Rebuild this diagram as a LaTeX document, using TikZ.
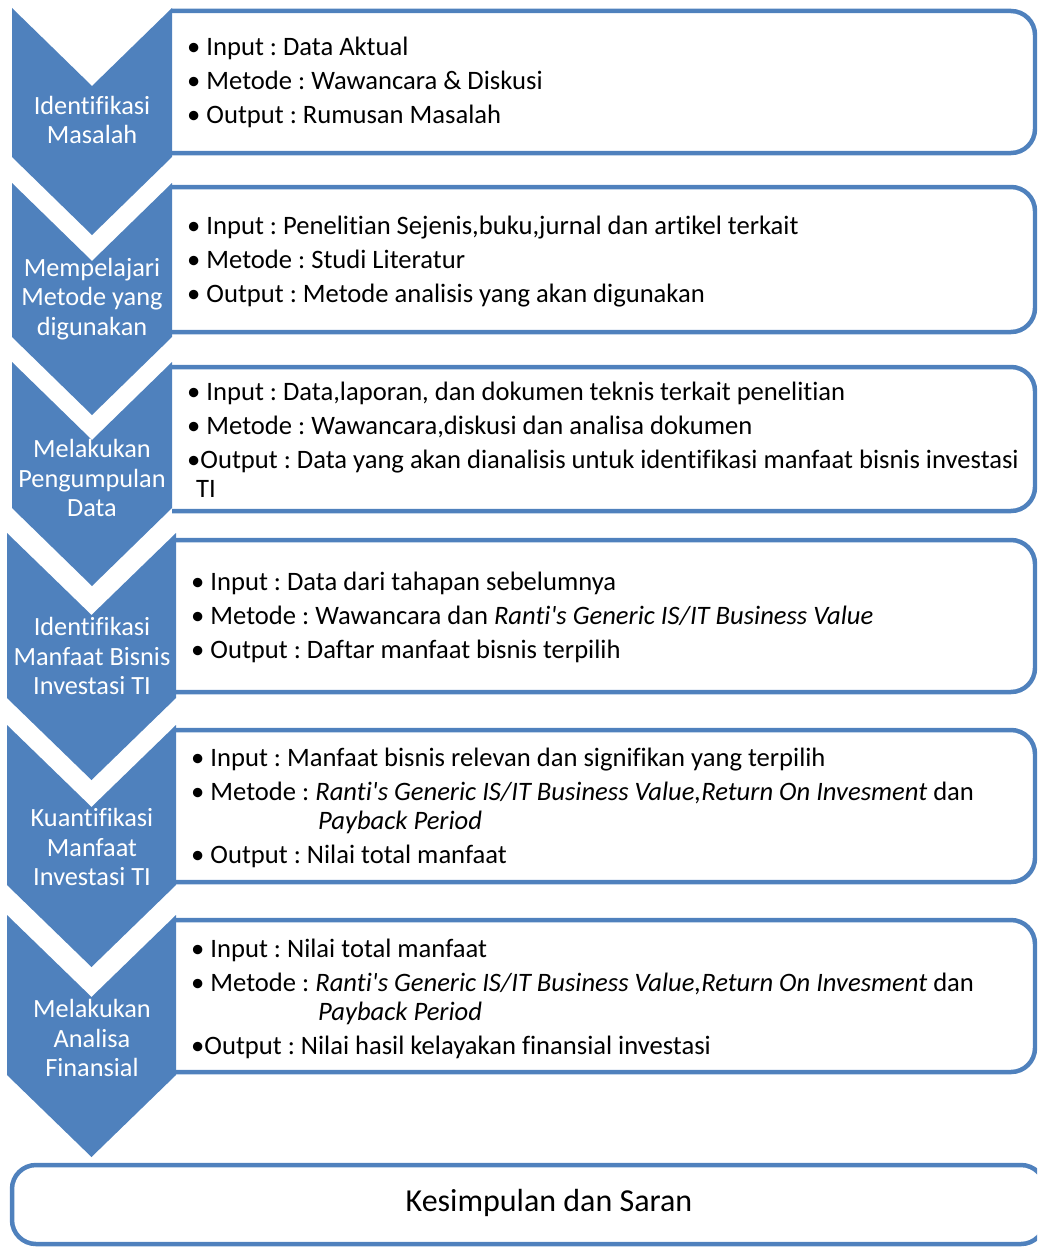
\documentclass[tikz,border=0pt]{standalone}
\usepackage{fontspec}
\setmainfont[Ligatures={NoCommon,NoContextual}]{Carlito}
\usetikzlibrary{positioning}
\definecolor{chevblue}{RGB}{79,129,189}
\frenchspacing

% chevron: x-left, x-right, top, bottom corners, notch depth
\newcommand{\stepchev}[5]{%
  \fill[chevblue] (#1,#3) -- ({(#1+#2)/2},#3+#5) -- (#2,#3) -- (#2,#4)
    -- ({(#1+#2)/2},#4+#5) -- (#1,#4) -- cycle;}
% info box open on the left, rounded on the right
\newcommand{\infobox}[4]{%
  \draw[boxline] (#1,#2) -- (#4,#2) -- (#4,#3) -- (#1,#3);}

\tikzset{
  boxline/.style={draw=chevblue,line width=4.5pt,rounded corners=24pt},
  steplab/.style={text=white,align=center,inner sep=0pt,
    font=\fontsize{26.3}{29.5}\selectfont},
  infotext/.style={anchor=west,align=left,inner sep=0pt,
    font=\fontsize{26.6}{29.5}\selectfont},
}

\begin{document}
\begin{tikzpicture}[x=1pt,y=-1pt]
  \useasboundingbox (0,0) rectangle (1037,1247);
  \clip (0,0) rectangle (1037,1247);

  % boxes
  \infobox{172}{11}{153}{1035}
  \infobox{172}{187}{332}{1035}
  \infobox{172}{367}{511}{1035}
  \infobox{176}{540}{692}{1035}
  \infobox{176}{730}{882}{1035}
  \infobox{176}{920}{1072}{1035}
  \draw[boxline] (12,1165) rectangle (1045,1244);

  % chevrons
  \stepchev{12}{172}{8}{157}{78}
  \stepchev{12}{172}{183}{337}{78}
  \stepchev{12}{172}{362}{508}{78}
  \stepchev{7}{176}{533}{698}{82}
  \stepchev{7}{176}{725}{885}{82}
  \stepchev{7}{176}{915}{1075}{82}

  \node[steplab] (lab1) at (92,120) {Identifikasi\\Masalah};
  \node[steplab] (lab2) at (92,299) {Mempelajari\\Metode yang\\digunakan};
  \node[steplab] (lab3) at (92,478) {Melakukan\\Pengumpulan\\Data};
  \node[steplab] (lab4) at (92,656) {Identifikasi\\Manfaat Bisnis\\Investasi TI};
  \node[steplab] (lab5) at (92,847) {Kuantifikasi\\Manfaat\\Investasi TI};
  \node[steplab] (lab6) at (92,1038) {Melakukan\\Analisa\\Finansial};

  \node[infotext] (txt1) at (187,82) {• Input : Data Aktual\\[4.5pt]
    • Metode : Wawancara \& Diskusi\\[4.5pt]
    • Output : Rumusan Masalah};
  \node[infotext] (txt2) at (187,262) {• Input : Penelitian Sejenis,buku,jurnal dan artikel terkait\\[4.5pt]
    • Metode : Studi Literatur\\[4.5pt]
    • Output : Metode analisis yang akan digunakan};
  \node[infotext] (txt3) at (187,440) {• Input : Data,laporan, dan dokumen teknis terkait penelitian\\[4.5pt]
    • Metode : Wawancara,diskusi dan analisa dokumen\\[4.5pt]
    •Output : Data yang akan dianalisis untuk identifikasi manfaat bisnis investasi\\
    \hspace*{9pt}TI};
  \node[infotext] (txt4) at (191,617) {• Input : Data dari tahapan sebelumnya\\[4.5pt]
    • Metode : Wawancara dan \textit{Ranti\textquotesingle s Generic IS/IT Business Value}\\[4.5pt]
    • Output : Daftar manfaat bisnis terpilih};
  \node[infotext] (txt5) at (191,808) {• Input : Manfaat bisnis relevan dan signifikan yang terpilih\\[4.5pt]
    • Metode : \textit{Ranti\textquotesingle s Generic IS/IT Business Value,Return On Invesment} dan\\
    \hspace*{127pt}\textit{Payback Period}\\[4.5pt]
    • Output : Nilai total manfaat};
  \node[infotext] (txt6) at (191,999) {• Input : Nilai total manfaat\\[4.5pt]
    • Metode : \textit{Ranti\textquotesingle s Generic IS/IT Business Value,Return On Invesment} dan\\
    \hspace*{127pt}\textit{Payback Period}\\[4.5pt]
    •Output : Nilai hasil kelayakan finansial investasi};

  \node[font=\fontsize{32}{38}\selectfont] (end) at (549,1203) {Kesimpulan dan Saran};
\end{tikzpicture}
\end{document}
